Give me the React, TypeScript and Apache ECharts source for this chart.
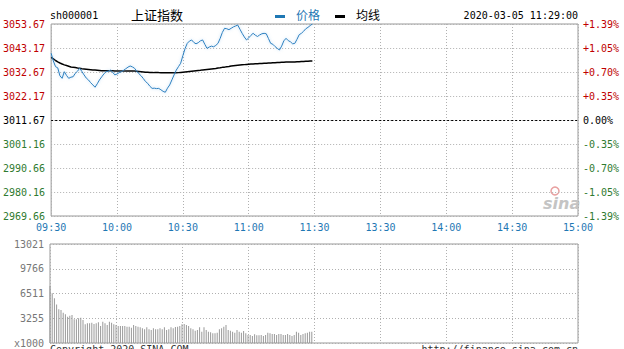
import React, { useEffect, useRef } from "react";
import * as echarts from "echarts";

const prevClose = 3011.67;
const step = 10.50125;
const timeLabels = ["09:30", "10:00", "10:30", "11:00", "11:30", "13:30", "14:00", "14:30", "15:00"];
const priceLabels = ["3053.67", "3043.17", "3032.67", "3022.17", "3011.67", "3001.16", "2990.66", "2980.16", "2969.66"];
const pctLabels = ["+1.39%", "+1.05%", "+0.70%", "+0.35%", "0.00%", "-0.35%", "-0.70%", "-1.05%", "-1.39%"];
const volLabels = ["x1000", "3255", "6511", "9766", "13021"];

const prices = [
  3040.9, 3037.5, 3035.0, 3034.5, 3031.0, 3029.9, 3032.8, 3031.2, 3029.9, 3030.4,
  3030.6, 3032.1, 3033.0, 3034.3, 3032.9, 3031.4, 3030.0, 3029.2, 3028.0, 3027.0,
  3026.0, 3027.5, 3029.2, 3030.5, 3031.8, 3032.8, 3033.0, 3033.5, 3032.6, 3031.4,
  3031.8, 3032.4, 3032.8, 3033.4, 3034.1, 3034.8, 3035.3, 3034.9, 3034.3, 3033.0,
  3031.9, 3031.0, 3029.8, 3028.5, 3027.7, 3026.4, 3025.5, 3025.6, 3025.4, 3025.5,
  3024.9, 3024.2, 3023.8, 3025.6, 3027.0, 3029.2, 3031.4, 3033.5, 3035.0, 3036.5,
  3039.8, 3042.9, 3045.2, 3046.2, 3046.7, 3045.6, 3045.0, 3045.5, 3046.3, 3046.7,
  3044.8, 3043.0, 3043.6, 3044.0, 3043.7, 3044.3, 3045.2, 3047.4, 3050.0, 3051.8,
  3051.6, 3051.2, 3051.8, 3052.4, 3052.8, 3053.2, 3051.4, 3049.6, 3048.0, 3046.7,
  3047.6, 3048.7, 3049.6, 3048.8, 3048.2, 3048.9, 3049.4, 3049.6, 3049.4, 3047.3,
  3045.2, 3044.8, 3043.8, 3043.0, 3042.3, 3044.0, 3046.3, 3047.4, 3046.4, 3045.9,
  3045.0, 3045.2, 3047.0, 3049.0, 3049.6, 3050.5, 3051.6, 3052.2, 3053.0, 3053.67,
];

const avgPrices = [
  3039.1, 3038.4, 3037.7, 3037.1, 3036.6, 3036.2, 3035.8, 3035.5, 3035.2, 3034.9,
  3034.7, 3034.6, 3034.4, 3034.3, 3034.1, 3034.0, 3033.9, 3033.8, 3033.7, 3033.6,
  3033.5, 3033.4, 3033.3, 3033.2, 3033.2, 3033.2, 3033.2, 3033.2, 3033.2, 3033.1,
  3033.1, 3033.1, 3033.1, 3033.1, 3033.1, 3033.1, 3033.1, 3033.1, 3033.1, 3033.0,
  3032.9, 3032.8, 3032.7, 3032.6, 3032.6, 3032.5, 3032.5, 3032.4, 3032.4, 3032.4,
  3032.3, 3032.3, 3032.3, 3032.3, 3032.3, 3032.3, 3032.3, 3032.3, 3032.4, 3032.5,
  3032.6, 3032.7, 3032.8, 3032.9, 3033.0, 3033.1, 3033.2, 3033.3, 3033.4, 3033.6,
  3033.7, 3033.8, 3033.9, 3034.0, 3034.1, 3034.2, 3034.4, 3034.5, 3034.7, 3034.8,
  3035.0, 3035.1, 3035.3, 3035.4, 3035.5, 3035.6, 3035.7, 3035.8, 3035.9, 3036.0,
  3036.1, 3036.2, 3036.2, 3036.3, 3036.3, 3036.4, 3036.4, 3036.5, 3036.5, 3036.6,
  3036.6, 3036.7, 3036.7, 3036.8, 3036.8, 3036.9, 3036.9, 3037.0, 3037.0, 3037.1,
  3037.1, 3037.1, 3037.2, 3037.2, 3037.3, 3037.3, 3037.4, 3037.4, 3037.5, 3037.5,
];

const volumes = [
  7496, 6530, 5870, 5080, 4430, 4340, 3990, 3770, 3460, 3590,
  3680, 3110, 3110, 3240, 3330, 3025, 2455, 2585, 2585, 2675,
  2500, 2585, 2720, 2235, 2805, 2585, 2370, 2805, 2675, 2455,
  2370, 2235, 2235, 2235, 2235, 2150, 2150, 2020, 2370, 2235,
  2150, 2060, 1930, 1800, 2060, 1800, 1710, 1930, 1800, 1800,
  1930, 1800, 2060, 1710, 1800, 2060, 1930, 2100, 2150, 2235,
  2455, 2500, 2370, 2235, 1930, 1800, 1620, 1710, 2060, 1490,
  2060, 1710, 1490, 1400, 1270, 1270, 1360, 1800, 1930, 2150,
  2370, 1710, 1620, 1490, 1360, 1710, 1490, 1360, 1580, 1270,
  1050, 1050, 920, 1140, 1010, 1010, 1050, 920, 1050, 1360,
  1270, 1180, 1180, 1050, 1180, 1180, 1050, 1050, 1180, 1050,
  920, 1050, 1490, 1360, 1050, 1180, 1270, 1360, 1490, 1490,
];

const RED = "#c00000";
const GREEN = "#2f7a2f";
const MONO = "DejaVu Sans Mono";

export default function App() {
  const ref = useRef<HTMLDivElement>(null);
  useEffect(() => {
    if (!ref.current) return;
    const chart = echarts.init(ref.current, null, { renderer: "svg" });
    const priceData = prices.map((p, i) => [i, (p - prevClose) / step]);
    const avgData = avgPrices.map((p, i) => [i, (p - prevClose) / step]);
    const volData = volumes.map((v, i) => [i, v]);
    const labelColor = (v: number) => (v > 0.01 ? RED : v < -0.01 ? GREEN : "#000");
    const dotted = { color: "#b0b0b0", type: [1, 2] as any, width: 1 };
    chart.setOption({
      animation: false,
      backgroundColor: "#fff",
      grid: [
        { left: 50, top: 24, width: 528, height: 192, show: true, borderColor: "#999", borderWidth: 1, backgroundColor: "transparent" },
        { left: 50, top: 244, width: 528, height: 99, show: true, borderColor: "#999", borderWidth: 1, backgroundColor: "transparent" },
      ],
      xAxis: [
        {
          type: "value", gridIndex: 0, min: 0, max: 240, interval: 30,
          axisLine: { show: false }, axisTick: { show: false },
          splitLine: { show: true, lineStyle: dotted },
          axisLabel: {
            margin: 6, color: "#1f78b4", fontFamily: MONO, fontSize: 10,
            formatter: (v: number) => timeLabels[Math.round(v / 30)] ?? "",
          },
        },
        {
          type: "value", gridIndex: 1, min: 0, max: 240, interval: 30,
          axisLine: { show: false }, axisTick: { show: false },
          splitLine: { show: true, lineStyle: dotted },
          axisLabel: { show: false },
        },
      ],
      yAxis: [
        {
          type: "value", gridIndex: 0, min: -4, max: 4, interval: 1, position: "left",
          axisLine: { show: false }, axisTick: { show: false },
          splitLine: { show: true, lineStyle: dotted },
          axisLabel: {
            margin: 6, fontFamily: MONO, fontSize: 10,
            color: (v: any) => labelColor(Number(v)),
            formatter: (v: number) => priceLabels[4 - Math.round(v)] ?? "",
          },
        },
        {
          type: "value", gridIndex: 0, min: -4, max: 4, interval: 1, position: "right",
          axisLine: { show: false }, axisTick: { show: false },
          splitLine: { show: false },
          axisLabel: {
            margin: 5, fontFamily: MONO, fontSize: 10,
            color: (v: any) => labelColor(Number(v)),
            formatter: (v: number) => pctLabels[4 - Math.round(v)] ?? "",
          },
        },
        {
          type: "value", gridIndex: 1, min: 0, max: 13021, interval: 3255.25,
          axisLine: { show: false }, axisTick: { show: false },
          splitLine: { show: true, lineStyle: dotted },
          axisLabel: {
            margin: 6, fontFamily: MONO, fontSize: 10, color: "#777",
            formatter: (v: number) => volLabels[Math.round(v / 3255.25)] ?? "",
          },
        },
      ],
      series: [
        {
          type: "line", xAxisIndex: 0, yAxisIndex: 0, data: avgData, showSymbol: false,
          lineStyle: { color: "#000", width: 1.5 }, silent: true, z: 3,
          markLine: {
            silent: true, symbol: "none", label: { show: false },
            lineStyle: { color: "#000", type: [2, 2] as any, width: 1 },
            data: [{ yAxis: 0 }],
          },
        },
        {
          type: "line", xAxisIndex: 0, yAxisIndex: 0, data: priceData, showSymbol: false,
          lineStyle: { color: "#2a80c0", width: 1, shadowColor: "rgba(120,180,230,0.6)", shadowBlur: 3 },
          silent: true, z: 4,
        },
        {
          type: "bar", xAxisIndex: 1, yAxisIndex: 2, data: volData, barWidth: 1,
          itemStyle: { color: "#999" }, silent: true,
        },
      ],
      graphic: [
        { type: "text", left: 50, top: 10, style: { text: "sh000001", font: `10px "${MONO}"`, fill: "#000" } },
        { type: "text", left: 131, top: 8, style: { text: "上证指数", font: '13px "Noto Sans CJK SC"', fill: "#000" } },
        { type: "rect", shape: { x: 275, y: 15, width: 10, height: 3 }, style: { fill: "#1f78b4" } },
        { type: "text", left: 296, top: 8, style: { text: "价格", font: '12px "Noto Sans CJK SC"', fill: "#1f78b4" } },
        { type: "rect", shape: { x: 335, y: 15, width: 10, height: 3 }, style: { fill: "#000" } },
        { type: "text", left: 356, top: 8, style: { text: "均线", font: '12px "Noto Sans CJK SC"', fill: "#000" } },
        { type: "text", right: 46, top: 10, style: { text: "2020-03-05 11:29:00", font: `10px "${MONO}"`, fill: "#000" } },
        { type: "text", left: 50, top: 344, style: { text: "Copyright 2020 SINA.COM", font: `10px "${MONO}"`, fill: "#333" } },
        { type: "text", right: 46, top: 344, style: { text: "http://finance.sina.com.cn", font: `10px "${MONO}"`, fill: "#333" } },
        { type: "circle", shape: { cx: 555, cy: 191, r: 4 }, style: { fill: "none", stroke: "#e8a0a0", lineWidth: 1.5 } },
        { type: "text", left: 543, top: 195, style: { text: "sina", font: 'italic bold 16px "DejaVu Sans"', fill: "#c4c4c4" } },
      ],
    });
    return () => chart.dispose();
  }, []);
  return <div ref={ref} style={{ position: "fixed", left: 0, top: 0, width: 624, height: 349 }} />;
}
